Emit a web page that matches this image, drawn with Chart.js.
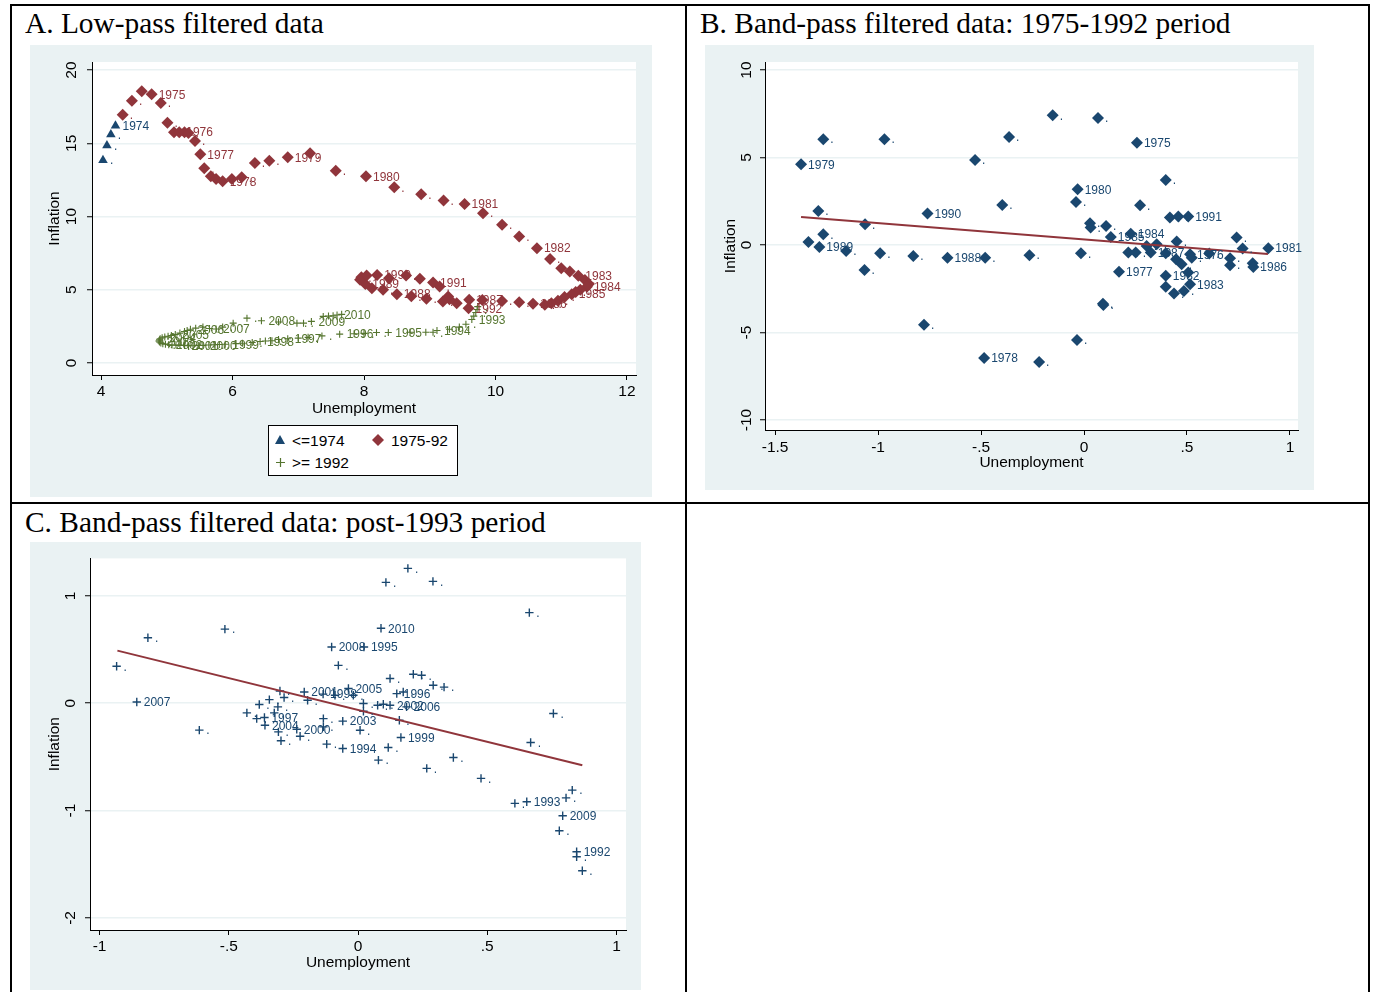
<!DOCTYPE html>
<html>
<head>
<meta charset="utf-8">
<script src="https://cdn.jsdelivr.net/npm/chart.js@4.4.1/dist/chart.umd.min.js"></script>
<style>
  html, body { margin: 0; padding: 0; background: #fff; }
  body { width: 1374px; height: 992px; position: relative; overflow: hidden; font-family: "Liberation Sans", Arial, sans-serif; }
  .ln { position: absolute; background: #000; }
  .ttl { position: absolute; font-family: "Liberation Serif", "Times New Roman", serif; font-size: 29.4px; line-height: 1; color: #000; white-space: nowrap; }
  canvas { position: absolute; background: #eaf2f3; }
  #legA { position: absolute; left: 268px; top: 425px; width: 188px; height: 49px; border: 1px solid #000; background: #fff; font-size: 15.5px; }
  #legA .it { position: absolute; line-height: 18px; white-space: nowrap; color: #000; }
  #legA svg { position: absolute; }
</style>
</head>
<body>
<div class="ln" style="left:10px;top:4px;width:1360px;height:2px"></div>
<div class="ln" style="left:10px;top:4px;width:2px;height:990px"></div>
<div class="ln" style="left:1368px;top:4px;width:2px;height:990px"></div>
<div class="ln" style="left:685px;top:4px;width:2px;height:990px"></div>
<div class="ln" style="left:10px;top:502px;width:1360px;height:2px"></div>

<div class="ttl" style="left:25px;top:9px">A. Low-pass filtered data</div>
<div class="ttl" style="left:700px;top:9px">B. Band-pass filtered data: 1975-1992 period</div>
<div class="ttl" style="left:25px;top:508px">C. Band-pass filtered data: post-1993 period</div>

<canvas id="chartA" width="622" height="452" style="left:30px;top:45px"></canvas>
<canvas id="chartB" width="609" height="445" style="left:705px;top:45px"></canvas>
<canvas id="chartC" width="611" height="448" style="left:30px;top:542px"></canvas>

<div id="legA">
  <svg style="left:6px;top:9px" width="10" height="9"><polygon points="5,0 10,9 0,9" fill="#1a476f"/></svg>
  <div class="it" style="left:23px;top:6px">&lt;=1974</div>
  <svg style="left:103px;top:8px" width="12" height="12"><polygon points="6,0 12,6 6,12 0,6" fill="#90353b"/></svg>
  <div class="it" style="left:122px;top:6px">1975-92</div>
  <svg style="left:7px;top:32px" width="9" height="9"><path d="M4.5 0V9M0 4.5H9" stroke="#55752f" stroke-width="1.2"/></svg>
  <div class="it" style="left:23px;top:28px">&gt;= 1992</div>
</div>

<script>
Chart.defaults.font.family = '"Liberation Sans", Arial, Helvetica, sans-serif';
Chart.defaults.animation = false;

const NAVY = "#1a476f";
const MAROON = "#90353b";
const GREEN = "#55752f";

// ---- Panel A: low-pass filtered data ----
const preX = [4.03, 4.09, 4.15, 4.22];
const preY = [13.85, 14.85, 15.6, 16.2];
const preLab = [".", ".", ".", "1974"];

const midX = [4.33, 4.47, 4.62, 4.77, 4.91, 5.01, 5.11, 5.19, 5.27, 5.33, 5.43, 5.51,
  5.57, 5.67, 5.75, 5.85, 5.99, 6.14, 6.34, 6.56, 6.84, 7.18, 7.57, 8.03,
  8.46, 8.87, 9.21, 9.53, 9.81, 10.10, 10.36, 10.63, 10.83, 11.00, 11.13, 11.26,
  11.36, 11.42, 11.39, 11.29, 11.22, 11.16, 11.05, 10.95, 10.85, 10.75, 10.57, 10.36,
  10.10, 9.80, 9.60, 9.30, 8.95, 8.72, 8.50, 8.29, 8.12, 8.02, 7.94, 7.96,
  8.04, 8.20, 8.38, 8.64, 8.85, 9.05, 9.15, 9.28, 9.20, 9.41, 9.59];
const midY = [16.95, 17.9, 18.55, 18.35, 17.75, 16.4, 15.76, 15.76, 15.76, 15.7, 15.15, 14.25,
  13.3, 12.75, 12.57, 12.4, 12.57, 12.68, 13.65, 13.8, 14.05, 14.32, 13.12, 12.75,
  12.0, 11.52, 11.1, 10.85, 10.23, 9.43, 8.64, 7.84, 7.1, 6.47, 6.25, 5.95,
  5.67, 5.4, 5.2, 5.0, 4.85, 4.7, 4.5, 4.25, 4.08, 3.97, 4.04, 4.15,
  4.24, 4.3, 4.31, 4.35, 4.38, 4.56, 4.7, 5.0, 5.11, 5.4, 5.68, 5.85,
  5.97, 6.0, 5.79, 5.97, 5.75, 5.5, 5.22, 4.54, 4.2, 4.08, 3.74];
const midLab = [".", ".", ".", "1975", ".", ".", ".", "1976", ".", ".", ".", "1977",
  ".", ".", ".", "1978", ".", ".", ".", ".", "1979", ".", ".", "1980",
  ".", ".", ".", "1981", ".", ".", ".", "1982", ".", ".", ".", "1983",
  ".", ".", "1984", ".", ".", "1985", ".", ".", ".", ".", "1986", ".",
  ".", ".", "1987", ".", ".", ".", "1988", ".", ".", "1989", ".", ".",
  ".", "1990", ".", ".", ".", "1991", ".", ".", ".", ".", "1992"];

const postX = [9.73, 9.72, 9.70, 9.67, 9.64, 9.55, 9.45, 9.30, 9.11, 9.05, 8.94, 8.70,
  8.37, 8.19, 8.00, 7.85, 7.63, 7.36, 7.15, 7.00, 6.84, 6.70, 6.60, 6.50,
  6.42, 6.30, 6.15, 6.05, 5.89, 5.80, 5.72, 5.64, 5.55, 5.48, 5.40, 5.33,
  5.27, 5.20, 5.14, 5.08, 5.03, 4.98, 4.94, 4.91, 4.89, 4.88, 4.89, 4.90,
  4.93, 4.97, 5.02, 5.07, 5.13, 5.20, 5.27, 5.31, 5.36, 5.44, 5.55, 5.65,
  5.75, 5.85, 6.01, 6.22, 6.44, 6.70, 6.98, 7.08, 7.20, 7.38, 7.46, 7.53,
  7.59, 7.66];
const postY = [3.85, 3.65, 3.45, 3.2, 2.97, 2.65, 2.45, 2.3, 2.22, 2.1, 2.1, 2.1,
  2.08, 2.08, 2.02, 2.0, 1.97, 1.85, 1.75, 1.7, 1.65, 1.6, 1.52, 1.5,
  1.47, 1.4, 1.35, 1.32, 1.28, 1.26, 1.25, 1.23, 1.2, 1.2, 1.18, 1.18,
  1.2, 1.2, 1.22, 1.23, 1.25, 1.28, 1.32, 1.37, 1.43, 1.5, 1.58, 1.65,
  1.72, 1.78, 1.83, 1.88, 1.95, 2.04, 2.15, 2.22, 2.3, 2.38, 2.45, 2.35,
  2.32, 2.45, 2.72, 3.06, 2.88, 2.8, 2.72, 2.72, 2.84, 3.18, 3.2, 3.22,
  3.28, 3.32];
const postLab = [".", ".", ".", ".", "1993", ".", ".", ".", "1994", ".", ".", ".",
  "1995", ".", ".", ".", "1996", ".", ".", ".", "1997", ".", ".", ".",
  "1998", ".", ".", ".", "1999", ".", ".", ".", "2000", ".", ".", ".",
  "2001", ".", ".", ".", "2002", ".", ".", ".", "2003", ".", ".", ".",
  "2004", ".", ".", ".", "2005", ".", ".", ".", "2006", ".", ".", ".",
  "2007", ".", ".", ".", "2008", ".", ".", ".", "2009", ".", ".", ".",
  "2010", "."];

const aXTicks = [4, 6, 8, 10, 12];
const aYTicks = [0, 5, 10, 15, 20];

// ---- Panel B: band-pass, 1975-1992 ----
const bX = [-1.266, -0.969, -1.374, -1.29, -1.338, -1.285, -1.266, -1.155, -1.063, -1.066,
  -0.99, -0.829, -0.76, -0.663, -0.48, -0.529, -0.364, -0.397, -0.265, -0.152,
  0.068, 0.257, -0.485, -0.218, -0.777, -0.034, 0.092, -0.031, -0.039, 0.397,
  0.272, 0.417, 0.458, 0.506, 0.029, 0.032, 0.107, 0.13, 0.227, 0.304,
  0.353, 0.45, 0.741, 0.895, 0.77, -0.015, 0.215, 0.251, 0.324, 0.397,
  0.515, 0.608, 0.447, 0.474, 0.523, 0.709, 0.709, 0.819, 0.822, 0.17,
  0.397, 0.506, 0.515, 0.397, 0.437, 0.485, 0.094];
const bY = [6.05, 6.05, 4.62, 1.95, 0.18, -0.11, 0.62, -0.34, 1.19, -1.42,
  -0.47, -0.62, 1.8, -0.72, -0.72, 4.86, 6.18, 2.29, -0.58, 7.42,
  7.26, 5.84, -6.45, -6.68, -4.56, -5.42, -3.36, 3.19, 2.46, 3.72,
  2.27, 1.57, 1.63, 1.63, 1.25, 1.0, 1.09, 0.46, 0.65, -0.05,
  0.05, 0.2, 0.43, -0.18, -0.2, -0.47, -0.43, -0.43, -0.43, -0.47,
  -0.53, -0.49, -0.81, -1.1, -0.72, -0.75, -1.15, -1.04, -1.25, -1.52,
  -1.76, -1.57, -2.24, -2.39, -2.77, -2.62, -3.42];
const bLab = [".", ".", "1979", ".", ".", "1989", ".", ".", ".", ".",
  ".", ".", "1990", "1988", ".", ".", ".", ".", ".", ".",
  ".", "1975", "1978", ".", ".", ".", ".", "1980", ".", ".",
  ".", ".", ".", "1991", ".", ".", ".", "1985", "1984", ".",
  ".", ".", ".", "1981", ".", ".", ".", ".", "1987", ".",
  "1976", ".", ".", ".", ".", ".", ".", ".", "1986", "1977",
  "1982", ".", "1983", ".", ".", ".", "."];
const bFitX = [-1.374, 0.893];
const bFitY = [1.6, -0.51];
const bXTicks = [-1.5, -1, -0.5, 0, 0.5, 1];
const bYTicks = [-10, -5, 0, 5, 10];

// ---- Panel C: band-pass, post-1993 ----
const cX = [-0.934, -0.813, -0.515, -0.856, -0.614, -0.102, -0.076, 0.023, 0.108, 0.193,
  0.29, 0.089, 0.124, 0.214, 0.246, 0.291, 0.333, 0.15, 0.175, -0.302,
  -0.208, -0.135, -0.089, -0.037, -0.018, -0.343, -0.382, -0.286, -0.195, -0.43,
  -0.392, -0.362, -0.324, -0.31, -0.36, -0.308, -0.298, -0.237, -0.224, -0.134,
  -0.134, -0.121, -0.059, -0.059, 0.008, 0.021, 0.021, 0.076, 0.098, 0.124,
  0.188, 0.16, 0.166, 0.079, 0.117, 0.266, 0.369, 0.663, 0.756, 0.668,
  0.476, 0.607, 0.653, 0.805, 0.829, 0.792, 0.779, 0.846, 0.846, 0.868];
const cY = [0.344, 0.61, 0.69, 0.012, -0.25, 0.524, 0.353, 0.524, 1.126, 1.256,
  1.135, 0.698, 0.23, 0.27, 0.26, 0.167, 0.15, 0.09, 0.105, 0.114,
  0.105, 0.085, 0.074, 0.137, 0.074, 0.034, -0.012, 0.053, 0.028, -0.09,
  -0.143, -0.133, -0.09, -0.034, -0.205, -0.267, -0.35, -0.242, -0.307, -0.143,
  -0.22, -0.381, -0.422, -0.167, -0.251, -0.003, -0.074, -0.019, -0.009, -0.019,
  -0.034, -0.158, -0.319, -0.53, -0.412, -0.607, -0.505, 0.844, -0.096, -0.366,
  -0.7, -0.933, -0.918, -0.881, -0.809, -1.048, -1.188, -1.383, -1.43, -1.56];
const cLab = [".", ".", ".", "2007", ".", "2008", ".", "1995", ".", ".",
  ".", "2010", ".", ".", ".", ".", ".", "1996", ".", ".",
  "2001", "1998", ".", "2005", ".", ".", ".", ".", ".", ".",
  ".", "1997", ".", ".", "2004", ".", ".", "2000", ".", ".",
  ".", ".", "1994", "2003", ".", ".", ".", ".", ".", "2002",
  "2006", ".", "1999", ".", ".", ".", ".", ".", ".", ".",
  ".", ".", "1993", ".", ".", "2009", ".", "1992", ".", "."];
const cFitX = [-0.931, 0.868];
const cFitY = [0.49, -0.577];
const cXTicks = [-1, -0.5, 0, 0.5, 1];
const cYTicks = [-2, -1, 0, 1];

function pts(xs, ys){ return xs.map((x, i) => ({ x, y: ys[i] })); }

function fmt(v){
  const s = String(+Number(v).toFixed(2));
  return s.replace(/^(-?)0\./, "$1.");
}

// white plot region, grey graph region comes from the canvas background
const plotBg = {
  id: "plotBg",
  beforeDraw(chart){
    const { ctx, chartArea: a } = chart;
    ctx.save();
    ctx.fillStyle = "#ffffff";
    ctx.fillRect(a.left, a.top, a.right - a.left, a.bottom - a.top);
    ctx.restore();
  }
};

// marker labels at 3 o'clock, Stata style
const markLabels = {
  id: "markLabels",
  afterDatasetsDraw(chart){
    const ctx = chart.ctx;
    chart.data.datasets.forEach((ds, i) => {
      if (!ds.markLabels) return;
      const meta = chart.getDatasetMeta(i);
      ctx.save();
      ctx.font = '12px "Liberation Sans", Arial, sans-serif';
      ctx.fillStyle = ds.borderColor;
      ctx.textAlign = "left";
      ctx.textBaseline = "middle";
      meta.data.forEach((p, j) => {
        const t = ds.markLabels[j];
        if (t) ctx.fillText(t, p.x + 7, p.y + 1);
      });
      ctx.restore();
    });
  }
};

function scales(o){
  const font = { size: 15.5 };
  return {
    x: {
      type: "linear", min: o.xMin, max: o.xMax,
      afterBuildTicks: s => { s.ticks = o.xTicks.map(v => ({ value: v })); },
      afterFit: s => { s.height = o.xAxisH; },
      ticks: { callback: fmt, color: "#000", font, padding: o.xTickPad, maxRotation: 0, autoSkip: false },
      grid: { drawOnChartArea: false, tickLength: 5, tickColor: "#000", tickWidth: 1 },
      border: { color: "#000", width: 1 },
      title: { display: true, text: "Unemployment", color: "#000", font, padding: { top: 0, bottom: o.xTitlePad } }
    },
    y: {
      type: "linear", min: o.yMin, max: o.yMax,
      afterBuildTicks: s => { s.ticks = o.yTicks.map(v => ({ value: v })); },
      afterFit: s => { s.width = o.yAxisW; },
      ticks: { callback: fmt, color: "#000", font, padding: o.yTickPad, minRotation: 90, maxRotation: 90, crossAlign: "center", autoSkip: false },
      grid: { color: "#eaf2f3", lineWidth: 1.5, tickLength: 5, tickColor: "#000", tickWidth: 1 },
      border: { color: "#000", width: 1 },
      title: { display: true, text: "Inflation", color: "#000", font, padding: { top: o.yTitlePad, bottom: 0 } }
    }
  };
}

function panel(id, datasets, o){
  return new Chart(document.getElementById(id), {
    type: "scatter",
    data: { datasets },
    options: {
      responsive: false,
      animation: false,
      layout: { padding: { top: o.padTop, right: o.padRight, bottom: 0, left: 0 } },
      plugins: { legend: { display: false }, tooltip: { enabled: false } },
      scales: scales(o)
    },
    plugins: [plotBg, markLabels]
  });
}

function fitLine(xs, ys){
  return { type: "line", data: pts(xs, ys), borderColor: MAROON, borderWidth: 2, pointRadius: 0, showLine: true, fill: false };
}

panel("chartA", [
  { data: pts(preX, preY), markLabels: preLab, pointStyle: "triangle", radius: 5.5,
    backgroundColor: NAVY, borderColor: NAVY, borderWidth: 0 },
  { data: pts(midX, midY), markLabels: midLab, pointStyle: "rectRot", radius: 6,
    backgroundColor: MAROON, borderColor: MAROON, borderWidth: 0 },
  { data: pts(postX, postY), markLabels: postLab, pointStyle: "cross", radius: 3.5,
    backgroundColor: GREEN, borderColor: GREEN, borderWidth: 1.1 }
], {
  xMin: 3.863, xMax: 12.137, yMin: -0.82, yMax: 20.55,
  xTicks: aXTicks, yTicks: aYTicks,
  padTop: 17, padRight: 16, yAxisW: 62, xAxisH: 122,
  xTickPad: 2.7, yTickPad: 6.4, xTitlePad: 79, yTitlePad: 15.7
});

panel("chartB", [
  fitLine(bFitX, bFitY),
  { data: pts(bX, bY), markLabels: bLab, pointStyle: "rectRot", radius: 6,
    backgroundColor: NAVY, borderColor: NAVY, borderWidth: 0 }
], {
  xMin: -1.549, xMax: 1.039, yMin: -10.57, yMax: 10.46,
  xTicks: bXTicks, yTicks: bYTicks,
  padTop: 17, padRight: 16, yAxisW: 60, xAxisH: 60,
  xTickPad: 3.5, yTickPad: 1.8, xTitlePad: 18, yTitlePad: 16.7
});

panel("chartC", [
  fitLine(cFitX, cFitY),
  { data: pts(cX, cY), markLabels: cLab, pointStyle: "cross", radius: 4.2,
    backgroundColor: NAVY, borderColor: NAVY, borderWidth: 1.4 }
], {
  xMin: -1.037, xMax: 1.037, yMin: -2.112, yMax: 1.349,
  xTicks: cXTicks, yTicks: cYTicks,
  padTop: 16, padRight: 15, yAxisW: 60, xAxisH: 60,
  xTickPad: 2, yTickPad: 7.1, xTitlePad: 18, yTitlePad: 15.7
});
</script>
</body>
</html>
